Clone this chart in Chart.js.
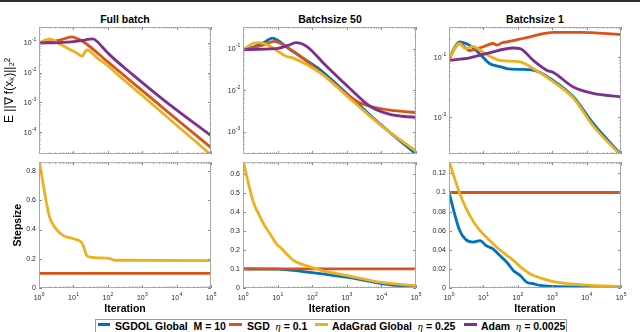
<!DOCTYPE html>
<html>
<head>
<meta charset="utf-8">
<title>Stepsize comparison</title>
<script src="https://cdn.jsdelivr.net/npm/chart.js@4.4.1/dist/chart.umd.min.js"></script>
<style>
  html, body { margin: 0; padding: 0; background: #fff; }
  body { position: relative; width: 640px; height: 332px; overflow: hidden; font-family: "Liberation Sans", Arial, sans-serif; color: #000; }
  canvas { position: absolute; }
  .topbar { position: absolute; left: 0; top: 0; width: 640px; height: 2px; background: #2f2f2f; }
  .title { position: absolute; top: 13px; width: 180px; text-align: center; font-size: 10.5px; font-weight: bold; line-height: 12px; }
  .legend { position: absolute; left: 95px; top: 319px; width: 472px; height: 20px; border: 1px solid #9a9a9a; box-sizing: border-box; background: #fff; }
  .swatch { position: absolute; top: 323px; height: 3px; }
  .entry { position: absolute; top: 320px; font-size: 10.5px; font-weight: bold; line-height: 12px; white-space: pre; }
  .entry i { font-family: "Liberation Serif", serif; font-weight: normal; }
</style>
</head>
<body>
<div class="topbar"></div>
<div class="title" style="left:35px">Full batch</div>
<div class="title" style="left:240px">Batchsize 50</div>
<div class="title" style="left:445px">Batchsize 1</div>

<canvas id="fullGrad" width="221" height="139" style="left:0px;top:21px"></canvas>
<canvas id="b50Grad" width="213" height="139" style="left:213px;top:21px"></canvas>
<canvas id="b1Grad" width="212" height="139" style="left:419px;top:21px"></canvas>
<canvas id="fullStep" width="221" height="161" style="left:0px;top:155px"></canvas>
<canvas id="b50Step" width="213" height="161" style="left:213px;top:155px"></canvas>
<canvas id="b1Step" width="212" height="161" style="left:419px;top:155px"></canvas>

<div class="legend"></div>
<div class="swatch" style="left:98px;width:12px;background:#0072BD"></div>
<div class="entry" style="left:115px">SGDOL Global  M = 10</div>
<div class="swatch" style="left:229px;width:13px;background:#D95319"></div>
<div class="entry" style="left:247px">SGD  <i>η</i> = 0.1</div>
<div class="swatch" style="left:315px;width:13px;background:#EDB120"></div>
<div class="entry" style="left:332px">AdaGrad Global  <i>η</i> = 0.25</div>
<div class="swatch" style="left:464px;width:13px;background:#7E2F8E"></div>
<div class="entry" style="left:481px">Adam  <i>η</i> = 0.0025</div>

<script>
// iteration axis (labels are the powers of ten)
var xTickValues = [1, 10, 100, 1000, 10000, 100000];
var xTickExps = ['0', '1', '2', '3', '4', '5'];

// Full batch: gradient norm
var fullSgdIter = [1, 2, 4, 9, 14, 22, 100, 1000, 10000, 100000];
var fullSgdGrad = [0.1, 0.108, 0.125, 0.16, 0.135, 0.1, 0.023, 0.0025, 0.00027, 0.00003];
var fullAdaIter = [1, 2, 4, 7, 12, 18, 21, 25, 50, 115, 140, 1000, 10000, 100000];
var fullAdaGrad = [0.1, 0.137, 0.093, 0.065, 0.047, 0.036, 0.047, 0.058, 0.031, 0.015, 0.012, 0.0017, 0.00017, 0.000017];
var fullAdamIter = [1, 5, 15, 30, 37, 50, 70, 116, 550, 5150, 100000];
var fullAdamGrad = [0.1, 0.105, 0.118, 0.134, 0.137, 0.11, 0.072, 0.039, 0.0083, 0.001, 0.000076];

// Batchsize 50: gradient norm
var b50SgdolIter = [1, 2, 4, 7, 10, 14, 23, 60, 170, 1230, 11000, 100000];
var b50SgdolGrad = [0.095, 0.11, 0.14, 0.18, 0.16, 0.13, 0.095, 0.056, 0.031, 0.0071, 0.00134, 0.00029];
var b50SgdIter = [1, 2, 4, 8, 13, 32, 205, 1940, 4700, 17800, 100000];
var b50SgdGrad = [0.095, 0.105, 0.125, 0.15, 0.13, 0.081, 0.024, 0.0054, 0.0041, 0.0033, 0.0029];
var b50AdaIter = [1, 2, 3, 5, 10, 18, 27, 170, 1500, 11000, 100000];
var b50AdaGrad = [0.095, 0.135, 0.14, 0.125, 0.087, 0.065, 0.06, 0.026, 0.0054, 0.0013, 0.00034];
var b50AdamIter = [1, 9, 20, 34, 69, 235, 1230, 4700, 17800, 100000];
var b50AdamGrad = [0.095, 0.1, 0.12, 0.14, 0.114, 0.041, 0.011, 0.0041, 0.0026, 0.0022];

// Batchsize 1: gradient norm
var b1SgdolIter = [1, 2, 4, 8, 15, 30, 48, 100, 280, 1080, 4100, 15500, 100000];
var b1SgdolGrad = [0.095, 0.18, 0.158, 0.113, 0.079, 0.07, 0.065, 0.063, 0.061, 0.041, 0.022, 0.0079, 0.0024];
var b1SgdIter = [1, 2, 4, 10, 19, 25, 35, 48, 225, 1080, 6300, 100000];
var b1SgdGrad = [0.095, 0.17, 0.13, 0.15, 0.17, 0.16, 0.175, 0.18, 0.22, 0.26, 0.26, 0.24];
var b1AdaIter = [1, 2, 3, 5, 10, 30, 116, 280, 1080, 4100, 15500, 100000];
var b1AdaGrad = [0.095, 0.17, 0.14, 0.152, 0.12, 0.089, 0.084, 0.065, 0.039, 0.021, 0.0072, 0.0023];
var b1AdamIter = [1, 4, 12, 73, 116, 280, 690, 1080, 4100, 15500, 100000];
var b1AdamGrad = [0.089, 0.098, 0.115, 0.143, 0.14, 0.089, 0.061, 0.056, 0.032, 0.025, 0.022];

// stepsizes
var sgdStepIter = [1, 100000];
var sgdStep = [0.1, 0.1];
var fullAdaStepIter = [1, 2, 3, 5, 10, 17, 20, 24, 30, 116, 160, 100000];
var fullAdaStep = [0.88, 0.49, 0.41, 0.36, 0.337, 0.314, 0.28, 0.224, 0.212, 0.201, 0.19, 0.187];
var b50SgdolStepIter = [1, 10, 23, 87, 170, 1230, 11300, 100000];
var b50SgdolStep = [0.1, 0.099, 0.094, 0.082, 0.075, 0.055, 0.022, 0.004];
var b50AdaStepIter = [1, 2, 3, 4, 6, 9, 13, 18, 28, 45, 87, 170, 1230, 11300, 100000];
var b50AdaStep = [0.67, 0.45, 0.38, 0.335, 0.285, 0.235, 0.207, 0.18, 0.146, 0.128, 0.111, 0.094, 0.0625, 0.028, 0.012];
var b1SgdolStepIter = [1, 2, 3, 5, 8, 12, 19, 30, 48, 60, 74, 116, 180, 280, 440, 1080, 10000, 100000];
var b1SgdolStep = [0.1, 0.061, 0.051, 0.048, 0.0496, 0.0444, 0.041, 0.034, 0.027, 0.0225, 0.0184, 0.0132, 0.0062, 0.0045, 0.0028, 0.0017, 0.001, 0.0005];
var b1AdaStepIter = [1, 2, 3, 5, 8, 15, 24, 45, 74, 130, 225, 500, 1080, 10000, 100000];
var b1AdaStep = [0.133, 0.1, 0.085, 0.07, 0.06, 0.05, 0.043, 0.035, 0.029, 0.021, 0.015, 0.01, 0.0066, 0.003, 0.0015];

// y ticks
var fullGradTicks = [0.1, 0.01, 0.001, 0.0001];
var fullGradExps = ['-1', '-2', '-3', '-4'];
var b50GradTicks = [0.1, 0.01, 0.001];
var b50GradExps = ['-1', '-2', '-3'];
var b1GradTicks = [0.1, 0.01];
var b1GradExps = ['-1', '-2'];
var fullStepTicks = [0, 0.2, 0.4, 0.6, 0.8];
var fullStepLabels = ['0', '0.2', '0.4', '0.6', '0.8'];
var b50StepTicks = [0, 0.1, 0.2, 0.3, 0.4, 0.5, 0.6];
var b50StepLabels = ['0', '0.1', '0.2', '0.3', '0.4', '0.5', '0.6'];
var b1StepTicks = [0, 0.02, 0.04, 0.06, 0.08, 0.1, 0.12];
var b1StepLabels = ['0', '0.02', '0.04', '0.06', '0.08', '0.1', '0.12'];

var colors = { sgdol: '#0072BD', sgd: '#D95319', ada: '#EDB120', adam: '#7E2F8E' };
var fontFamily = '"Liberation Sans", Arial, sans-serif';
var tickFont = { family: fontFamily, size: 7 };
var tickColor = '#262626';

Chart.defaults.font.family = fontFamily;

var toPoints = function (iters, vals) {
    return iters.map(function (it, i) {
        return { x: it, y: vals[i] };
    });
};

// later series sit on top, like the original plot order
var series = function (label, iters, vals, color, order) {
    return {
        label: label,
        data: toPoints(iters, vals),
        borderColor: color,
        backgroundColor: color,
        borderWidth: 2.8,
        pointRadius: 0,
        fill: false,
        cubicInterpolationMode: 'monotone',
        clip: 0,
        order: order
    };
};

// "10" with a raised exponent
var powerLabel = function (ctx, exp, x, y, align) {
    ctx.font = '7px ' + fontFamily;
    var wb = ctx.measureText('10').width;
    ctx.font = '5px ' + fontFamily;
    var ws = ctx.measureText(exp).width;
    var left = align === 'center' ? x - (wb + ws) / 2 : x - wb - ws;
    ctx.font = '7px ' + fontFamily;
    ctx.fillText('10', left, y + 2.5);
    ctx.font = '5px ' + fontFamily;
    ctx.fillText(exp, left + wb + 0.3, y - 1.5);
};

var axisBox = {
    id: 'axisBox',
    afterDraw: function (chart) {
        var ctx = chart.ctx, a = chart.chartArea;
        var xs = chart.scales.x, ys = chart.scales.y;
        var opts = chart.options.plugins.axisBox;
        var minors = function (scale) {
            var out = [];
            var lo = Math.floor(Math.log10(scale.min)), hi = Math.ceil(Math.log10(scale.max));
            for (var d = lo; d < hi; d++) {
                for (var k = 2; k < 10; k++) {
                    var v = k * Math.pow(10, d);
                    if (v > scale.min && v < scale.max) out.push(v);
                }
            }
            return out;
        };
        var markX = function (v, len) {
            var px = Math.round(xs.getPixelForValue(v)) + 0.5;
            ctx.moveTo(px, a.bottom); ctx.lineTo(px, a.bottom - len);
            ctx.moveTo(px, a.top); ctx.lineTo(px, a.top + len);
        };
        var markY = function (v, len) {
            var py = Math.round(ys.getPixelForValue(v)) + 0.5;
            ctx.moveTo(a.left, py); ctx.lineTo(a.left + len, py);
            ctx.moveTo(a.right, py); ctx.lineTo(a.right - len, py);
        };
        ctx.save();
        ctx.lineWidth = 1;
        ctx.strokeStyle = '#8a8a8a';
        ctx.beginPath();
        xs.ticks.forEach(function (t) { markX(t.value, 3); });
        minors(xs).forEach(function (v) { markX(v, 1.5); });
        ys.ticks.forEach(function (t) { markY(t.value, 3); });
        if (ys.type === 'logarithmic') {
            minors(ys).forEach(function (v) { markY(v, 1.5); });
        }
        ctx.stroke();
        ctx.strokeStyle = '#a8a8a8';
        ctx.strokeRect(a.left + 0.5, a.top + 0.5, a.right - a.left - 1, a.bottom - a.top - 1);

        ctx.fillStyle = tickColor;
        ctx.textAlign = 'left';
        ctx.textBaseline = 'alphabetic';
        if (opts.xExps) {
            xTickValues.forEach(function (v, i) {
                powerLabel(ctx, opts.xExps[i], xs.getPixelForValue(v), a.bottom + 9, 'center');
            });
        }
        if (opts.yExps) {
            ys.ticks.forEach(function (t, i) {
                powerLabel(ctx, opts.yExps[i], a.left - 3, ys.getPixelForValue(t.value), 'right');
            });
        }
        ctx.restore();
    }
};

var buildChart = function (canvasId, datasets, yAxis, showX, yWidth, yTitle) {
    var isLog = yAxis.type === 'logarithmic';
    var xScale = {
        type: 'logarithmic',
        min: 1,
        max: 100000,
        bounds: 'data',
        grid: { display: false, drawTicks: false },
        border: { display: false },
        afterBuildTicks: function (scale) {
            scale.ticks = xTickValues.map(function (v) { return { value: v }; });
        },
        afterFit: function (scale) { scale.height = showX ? 28 : 0; },
        ticks: { display: false },
        title: {
            display: showX,
            text: 'Iteration',
            color: '#000',
            font: { family: fontFamily, size: 10.5, weight: 'bold' },
            padding: { top: 0, bottom: 1 }
        }
    };
    var yScale = {
        type: yAxis.type,
        min: yAxis.min,
        max: yAxis.max,
        bounds: 'data',
        grid: { display: false, drawTicks: false },
        border: { display: false },
        afterBuildTicks: function (scale) {
            scale.ticks = yAxis.ticks.map(function (v) { return { value: v }; });
        },
        afterFit: function (scale) { scale.width = yWidth; },
        ticks: {
            display: !isLog,
            autoSkip: false,
            padding: 3,
            color: tickColor,
            font: tickFont,
            callback: function (v, i) { return yAxis.labels ? yAxis.labels[i] : ''; }
        },
        title: yTitle || { display: false }
    };
    return new Chart(document.getElementById(canvasId), {
        type: 'line',
        data: { datasets: datasets },
        options: {
            responsive: false,
            animation: false,
            devicePixelRatio: 1,
            layout: { padding: { left: 0, top: 6, right: 10, bottom: showX ? 0 : 6 } },
            scales: { x: xScale, y: yScale },
            plugins: {
                legend: { display: false },
                tooltip: { enabled: false },
                axisBox: { xExps: showX ? xTickExps : null, yExps: isLog ? yAxis.exps : null }
            }
        },
        plugins: [axisBox]
    });
};

var gradTitle = {
    display: true,
    text: 'E ||∇ f(xₖ)||₂²',
    color: '#000',
    font: { family: fontFamily, size: 12 },
    padding: { top: 2, bottom: 0 }
};
var stepTitle = {
    display: true,
    text: 'Stepsize',
    color: '#000',
    font: { family: fontFamily, size: 10.5, weight: 'bold' },
    padding: { top: 12, bottom: 0 }
};

buildChart('fullGrad', [
    series('SGD', fullSgdIter, fullSgdGrad, colors.sgd, 3),
    series('AdaGrad Global', fullAdaIter, fullAdaGrad, colors.ada, 2),
    series('Adam', fullAdamIter, fullAdamGrad, colors.adam, 1)
], { type: 'logarithmic', min: 0.0000182, max: 0.346, ticks: fullGradTicks, exps: fullGradExps }, false, 39, gradTitle);

buildChart('b50Grad', [
    series('SGDOL Global', b50SgdolIter, b50SgdolGrad, colors.sgdol, 4),
    series('SGD', b50SgdIter, b50SgdGrad, colors.sgd, 3),
    series('AdaGrad Global', b50AdaIter, b50AdaGrad, colors.ada, 2),
    series('Adam', b50AdamIter, b50AdamGrad, colors.adam, 1)
], { type: 'logarithmic', min: 0.00029, max: 0.333, ticks: b50GradTicks, exps: b50GradExps }, false, 30, null);

buildChart('b1Grad', [
    series('SGDOL Global', b1SgdolIter, b1SgdolGrad, colors.sgdol, 4),
    series('SGD', b1SgdIter, b1SgdGrad, colors.sgd, 3),
    series('AdaGrad Global', b1AdaIter, b1AdaGrad, colors.ada, 2),
    series('Adam', b1AdamIter, b1AdamGrad, colors.adam, 1)
], { type: 'logarithmic', min: 0.00245, max: 0.32, ticks: b1GradTicks, exps: b1GradExps }, false, 30, null);

buildChart('fullStep', [
    series('SGD', sgdStepIter, sgdStep, colors.sgd, 3),
    series('AdaGrad Global', fullAdaStepIter, fullAdaStep, colors.ada, 2)
], { type: 'linear', min: 0, max: 0.861, ticks: fullStepTicks, labels: fullStepLabels }, true, 39, stepTitle);

buildChart('b50Step', [
    series('SGDOL Global', b50SgdolStepIter, b50SgdolStep, colors.sgdol, 4),
    series('SGD', sgdStepIter, sgdStep, colors.sgd, 3),
    series('AdaGrad Global', b50AdaStepIter, b50AdaStep, colors.ada, 2)
], { type: 'linear', min: 0, max: 0.661, ticks: b50StepTicks, labels: b50StepLabels }, true, 30, null);

buildChart('b1Step', [
    series('SGDOL Global', b1SgdolStepIter, b1SgdolStep, colors.sgdol, 4),
    series('SGD', sgdStepIter, sgdStep, colors.sgd, 3),
    series('AdaGrad Global', b1AdaStepIter, b1AdaStep, colors.ada, 2)
], { type: 'linear', min: 0, max: 0.1317, ticks: b1StepTicks, labels: b1StepLabels }, true, 30, null);
</script>
</body>
</html>
